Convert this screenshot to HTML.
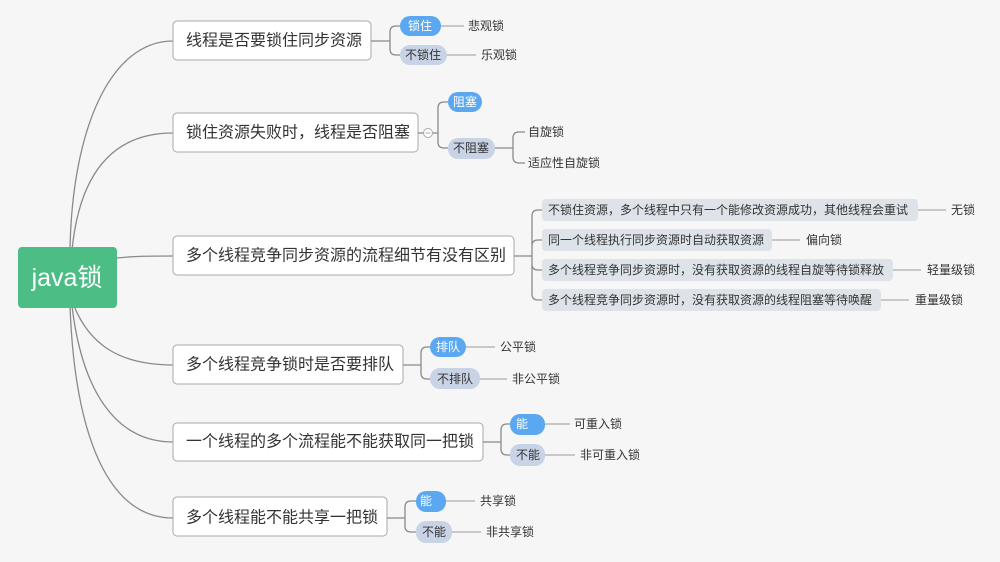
<!DOCTYPE html>
<html><head><meta charset="utf-8"><style>
html,body{margin:0;padding:0;background:#f6f6f6}
svg{display:block}
text{font-family:"Liberation Sans","Noto Sans CJK SC",sans-serif;dominant-baseline:central}
.m{font-size:16px;fill:#333}
.s{font-size:12px;fill:#333}
.w{font-size:12px;fill:#fff}
.l{fill:none;stroke:#8a8a8a;stroke-width:1.3}
.t{fill:none;stroke:#999;stroke-width:1}
</style></head><body>
<svg width="1000" height="562" viewBox="0 0 1000 562" xmlns="http://www.w3.org/2000/svg">
<rect width="1000" height="562" fill="#f6f6f6"/>
<!-- root curves -->
<path class="l" d="M70 250 C72 130 110 41 173 41"/>
<path class="l" d="M72 250 C80 170 115 133 173 133"/>
<path class="l" d="M117 258 C135 256 150 256 173 256"/>
<path class="l" d="M74 306 C90 345 120 365 173 365"/>
<path class="l" d="M72 306 C82 390 115 442 173 442"/>
<path class="l" d="M70 306 C75 440 110 518 173 518"/>
<rect x="18" y="247" width="99" height="61" rx="4" fill="#4cbd85"/>
<text x="67" y="278" text-anchor="middle" style="font-size:25px;fill:#fff">java锁</text>

<!-- main nodes -->
<g fill="#fff" stroke="#a8a8a8" stroke-width="1">
<rect x="173" y="21" width="198" height="39" rx="4"/>
<rect x="173" y="113" width="245" height="39" rx="4"/>
<rect x="173" y="236" width="341" height="39" rx="4"/>
<rect x="173" y="345" width="230" height="39" rx="4"/>
<rect x="173" y="423" width="310" height="38" rx="4"/>
<rect x="173" y="497" width="214" height="39" rx="4"/>
</g>
<text class="m" x="186" y="41">线程是否要锁住同步资源</text>
<text class="m" x="186" y="133">锁住资源失败时，线程是否阻塞</text>
<text class="m" x="186" y="256">多个线程竞争同步资源的流程细节有没有区别</text>
<text class="m" x="186" y="365">多个线程竞争锁时是否要排队</text>
<text class="m" x="186" y="442">一个线程的多个流程能不能获取同一把锁</text>
<text class="m" x="186" y="518">多个线程能不能共享一把锁</text>

<!-- branch 1 -->
<path class="l" d="M371 41 H390 M390 41 V32 Q390 26 396 26 H400 M390 41 V49 Q390 55 396 55 H400"/>
<rect x="400" y="16" width="41" height="20" rx="10" fill="#5ba8f0"/><text class="w" x="420" y="26" text-anchor="middle">锁住</text>
<rect x="400" y="45" width="47" height="20" rx="10" fill="#c8d3e6"/><text class="s" x="423" y="55" text-anchor="middle">不锁住</text>
<path class="t" d="M441 26 H464 M447 55 H476"/>
<text class="s" x="468" y="26">悲观锁</text><text class="s" x="481" y="55">乐观锁</text>

<!-- branch 2 -->
<path class="l" d="M418 133 H438 M438 133 V108 Q438 102 444 102 H448 M438 133 V142 Q438 148 444 148 H448"/>
<circle cx="428" cy="133" r="4.5" fill="#fff" stroke="#aaa"/><path d="M425.5 133 H430.5" stroke="#aaa"/>
<rect x="448" y="92" width="34" height="20" rx="10" fill="#5ba8f0"/><text class="w" x="465" y="102" text-anchor="middle">阻塞</text>
<rect x="448" y="138" width="47" height="21" rx="10" fill="#c8d3e6"/><text class="s" x="471" y="148" text-anchor="middle">不阻塞</text>
<path class="l" d="M495 148 H513 M513 148 V138 Q513 132 519 132 H525 M513 148 V157 Q513 163 519 163 H525"/>
<text class="s" x="528" y="132">自旋锁</text><text class="s" x="528" y="163">适应性自旋锁</text>

<!-- branch 3 -->
<path class="l" d="M514 256 H532 M532 256 V216 Q532 210 538 210 H542 M532 256 V246 Q532 240 538 240 H542 M532 256 V264 Q532 270 538 270 H542 M532 256 V294 Q532 300 538 300 H542"/>
<g fill="#dde3e8">
<rect x="542" y="199" width="376" height="22" rx="4"/>
<rect x="542" y="229" width="230" height="22" rx="4"/>
<rect x="542" y="259" width="351" height="22" rx="4"/>
<rect x="542" y="289" width="339" height="22" rx="4"/>
</g>
<text class="s" x="548" y="210">不锁住资源，多个线程中只有一个能修改资源成功，其他线程会重试</text>
<text class="s" x="548" y="240">同一个线程执行同步资源时自动获取资源</text>
<text class="s" x="548" y="270">多个线程竞争同步资源时，没有获取资源的线程自旋等待锁释放</text>
<text class="s" x="548" y="300">多个线程竞争同步资源时，没有获取资源的线程阻塞等待唤醒</text>
<path class="t" d="M918 210 H946 M772 240 H800 M893 270 H921 M881 300 H909"/>
<text class="s" x="951" y="210">无锁</text><text class="s" x="806" y="240">偏向锁</text>
<text class="s" x="927" y="270">轻量级锁</text><text class="s" x="915" y="300">重量级锁</text>

<!-- branch 4 -->
<path class="l" d="M403 365 H421 M421 365 V353 Q421 347 427 347 H430 M421 365 V373 Q421 379 427 379 H430"/>
<rect x="430" y="337" width="36" height="20" rx="10" fill="#5ba8f0"/><text class="w" x="448" y="347" text-anchor="middle">排队</text>
<rect x="430" y="368" width="50" height="21" rx="10" fill="#c8d3e6"/><text class="s" x="455" y="379" text-anchor="middle">不排队</text>
<path class="t" d="M466 347 H495 M480 379 H507"/>
<text class="s" x="500" y="347">公平锁</text><text class="s" x="512" y="379">非公平锁</text>

<!-- branch 5 -->
<path class="l" d="M483 442 H501 M501 442 V430 Q501 424 507 424 H510 M501 442 V449 Q501 455 507 455 H510"/>
<rect x="510" y="414" width="35" height="21" rx="10" fill="#5ba8f0"/><text class="w" x="522" y="424" text-anchor="middle">能</text>
<rect x="510" y="444" width="35" height="22" rx="10" fill="#c8d3e6"/><text class="s" x="528" y="455" text-anchor="middle">不能</text>
<path class="t" d="M545 424 H570 M545 455 H575"/>
<text class="s" x="574" y="424">可重入锁</text><text class="s" x="580" y="455">非可重入锁</text>

<!-- branch 6 -->
<path class="l" d="M387 518 H405 M405 518 V507 Q405 501 411 501 H416 M405 518 V526 Q405 532 411 532 H416"/>
<rect x="416" y="491" width="30" height="21" rx="10" fill="#5ba8f0"/><text class="w" x="426" y="501" text-anchor="middle">能</text>
<rect x="416" y="521" width="36" height="22" rx="10" fill="#c8d3e6"/><text class="s" x="434" y="532" text-anchor="middle">不能</text>
<path class="t" d="M446 501 H475 M452 532 H481"/>
<text class="s" x="480" y="501">共享锁</text><text class="s" x="486" y="532">非共享锁</text>
</svg>
</body></html>
